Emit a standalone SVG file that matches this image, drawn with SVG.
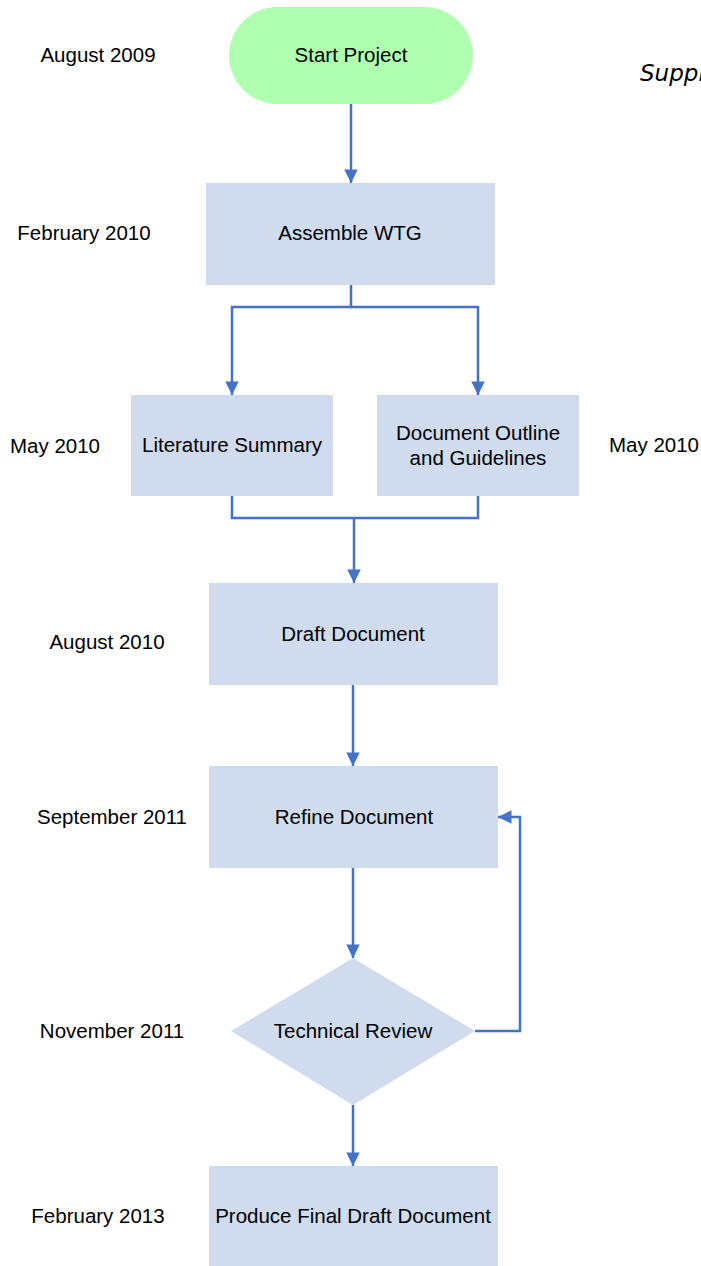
<svg xmlns="http://www.w3.org/2000/svg" width="701" height="1266" viewBox="0 0 701 1266">
  <style>
    .box { fill: #d0dcee; }
    .start { fill: #b0ffb0; }
    .lbl { font-family: "Liberation Sans", Arial, sans-serif; font-size: 20.5px; fill: #000; text-anchor: middle; dominant-baseline: central; }
    .note { font-family: "DejaVu Sans", Verdana, sans-serif; font-size: 23px; font-style: italic; fill: #000; }
    .conn { fill: none; stroke: #4472c4; stroke-width: 2.5; }
  </style>
  <defs>
    <marker id="arrow" viewBox="0 0 10 10" refX="10" refY="5" markerWidth="5.6" markerHeight="5.4" orient="auto" markerUnits="strokeWidth">
      <path d="M0,0 L10,5 L0,10 z" fill="#4472c4"/>
    </marker>
  </defs>
  <rect width="701" height="1266" fill="#ffffff"/>

  <!-- connectors -->
  <g id="connectors">
    <path class="conn" d="M351,104 V183" marker-end="url(#arrow)"/>
    <path class="conn" d="M351,285 V307 H232 V395" marker-end="url(#arrow)"/>
    <path class="conn" d="M351,307 H478 V395" marker-end="url(#arrow)"/>
    <path class="conn" d="M232,496 V518 H478 V496"/>
    <path class="conn" d="M354,518 V583" marker-end="url(#arrow)"/>
    <path class="conn" d="M353,685 V766" marker-end="url(#arrow)"/>
    <path class="conn" d="M353,868 V958" marker-end="url(#arrow)"/>
    <path class="conn" d="M475,1031 H520 V817 H498" marker-end="url(#arrow)"/>
    <path class="conn" d="M353,1105 V1166" marker-end="url(#arrow)"/>
  </g>

  <!-- nodes -->
  <g id="start-project">
    <rect class="start" x="229" y="7" width="244" height="97" rx="48.5"/>
    <text class="lbl" x="351" y="54">Start Project</text>
  </g>
  <g id="assemble-wtg">
    <rect class="box" x="206" y="183" width="289" height="102"/>
    <text class="lbl" x="350" y="232">Assemble WTG</text>
  </g>
  <g id="literature-summary">
    <rect class="box" x="131" y="395" width="202" height="101"/>
    <text class="lbl" x="232" y="444">Literature Summary</text>
  </g>
  <g id="document-outline">
    <rect class="box" x="377" y="395" width="202" height="101"/>
    <text class="lbl" x="478" y="432">Document Outline</text>
    <text class="lbl" x="478" y="457">and Guidelines</text>
  </g>
  <g id="draft-document">
    <rect class="box" x="209" y="583" width="289" height="102"/>
    <text class="lbl" x="353" y="633">Draft Document</text>
  </g>
  <g id="refine-document">
    <rect class="box" x="209" y="766" width="289" height="102"/>
    <text class="lbl" x="354" y="816">Refine Document</text>
  </g>
  <g id="technical-review">
    <polygon class="box" points="353,958 475,1031 353,1105 231,1031"/>
    <text class="lbl" x="353" y="1030">Technical Review</text>
  </g>
  <g id="final-draft">
    <rect class="box" x="209" y="1166" width="289" height="100"/>
    <text class="lbl" x="353" y="1215">Produce Final Draft Document</text>
  </g>

  <!-- dates -->
  <g id="dates">
    <text class="lbl" x="98" y="54">August 2009</text>
    <text class="lbl" x="84" y="232">February 2010</text>
    <text class="lbl" x="55" y="445">May 2010</text>
    <text class="lbl" x="654" y="444">May 2010</text>
    <text class="lbl" x="107" y="641">August 2010</text>
    <text class="lbl" x="112" y="816">September 2011</text>
    <text class="lbl" x="112" y="1030">November 2011</text>
    <text class="lbl" x="98" y="1215">February 2013</text>
  </g>

  <text class="note" x="640" y="81">Suppl</text>
</svg>
